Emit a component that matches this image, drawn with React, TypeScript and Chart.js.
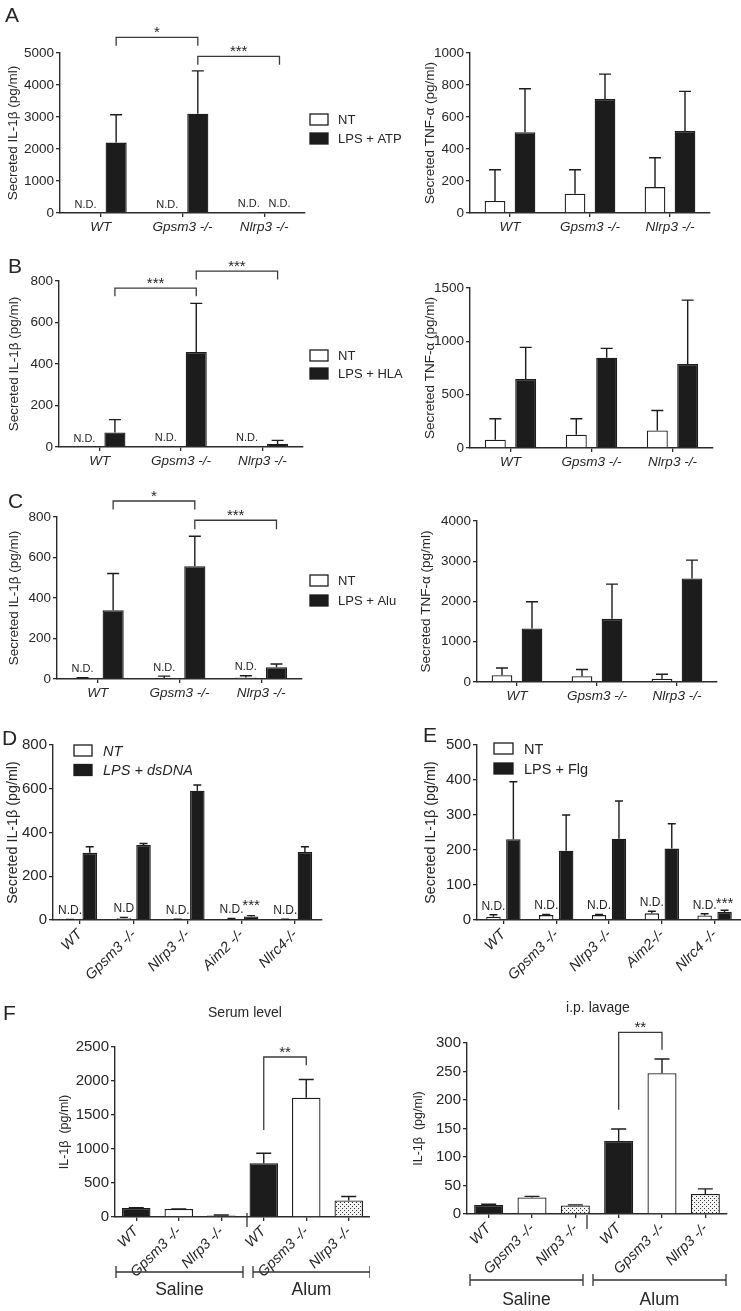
import React, { useEffect, useRef } from "react";
import { Chart, registerables } from "chart.js";
Chart.register(...registerables);

const FONT = '"Liberation Sans", Arial, Helvetica, sans-serif';
const INK = "#1c1c1c";
const AXIS = "#2b2b2b";
const TXT = "#262626";

// ---------------- data ----------------
const genotypes3 = ["WT", "Gpsm3 -/-", "Nlrp3 -/-"];
const genotypesD = ["WT", "Gpsm3 -/-", "Nlrp3 -/-", "Aim2 -/-", "Nlrc4-/-"];
const genotypesE = ["WT", "Gpsm3 -/-", "Nlrp3 -/-", "Aim2-/-", "Nlrc4 -/-"];
const genotypesF = ["WT", "Gpsm3 -/-", "Nlrp3 -/-", "WT", "Gpsm3 -/-", "Nlrp3 -/-"];
const treatmentsF = ["Saline", "Alum"];

// A: LPS + ATP
const aIl1bNT = [0, 0, 10];
const aIl1bNTErr = [0, 0, 0];
const aIl1bLPS = [2200, 3100, 20];
const aIl1bLPSErr = [870, 1340, 0];
const aIl1bNTNotes = ["N.D.", "N.D.", "N.D."];
const aIl1bLPSNotes = ["", "", "N.D."];
const aIl1bTicks = [0, 1000, 2000, 3000, 4000, 5000];
const aTnfNT = [75, 120, 162];
const aTnfNTErr = [195, 150, 183];
const aTnfLPS = [505, 713, 513];
const aTnfLPSErr = [272, 155, 247];
const aTnfTicks = [0, 200, 400, 600, 800, 1000];

// B: LPS + HLA
const bIl1bNT = [0, 4, 3];
const bIl1bNTErr = [0, 0, 0];
const bIl1bLPS = [70, 458, 15];
const bIl1bLPSErr = [62, 234, 17];
const bIl1bNTNotes = ["N.D.", "N.D.", "N.D."];
const bIl1bTicks = [0, 200, 400, 600, 800];
const bTnfNT = [78, 124, 164];
const bTnfNTErr = [196, 150, 187];
const bTnfLPS = [647, 846, 787];
const bTnfLPSErr = [296, 88, 599];
const bTnfTicks = [0, 500, 1000, 1500];

// C: LPS + Alu
const cIl1bNT = [3, 5, 8];
const cIl1bNTErr = [3, 9, 8];
const cIl1bLPS = [340, 557, 58];
const cIl1bLPSErr = [181, 148, 16];
const cIl1bNTNotes = ["N.D.", "N.D.", "N.D."];
const cIl1bTicks = [0, 200, 400, 600, 800];
const cTnfNT = [167, 142, 83];
const cTnfNTErr = [182, 167, 109];
const cTnfLPS = [1328, 1569, 2573];
const cTnfLPSErr = [664, 863, 456];
const cTnfTicks = [0, 1000, 2000, 3000, 4000];

// D: LPS + dsDNA
const dNT = [2, 8, 3, 5, 3];
const dNTErr = [1, 4, 1, 2, 1];
const dLPS = [307, 343, 591, 16, 311];
const dLPSErr = [28, 7, 26, 4, 24];
const dNTNotes = ["N.D.", "N.D", "N.D.", "N.D.", "N.D."];
const dLPSNotes = ["", "", "", "***", ""];
const dTicks = [0, 200, 400, 600, 800];

// E: LPS + Flg
const eNT = [9, 14, 14, 19, 13];
const eNTErr = [6, 2, 2, 6, 5];
const eLPS = [231, 198, 232, 204, 23];
const eLPSErr = [164, 102, 108, 71, 5];
const eNTNotes = ["N.D.", "N.D.", "N.D.", "N.D.", "N.D."];
const eLPSNotes = ["", "", "", "", "***"];
const eTicks = [0, 100, 200, 300, 400, 500];

// F: in vivo
const fSerum = [132, 117, 23, 791, 1753, 243];
const fSerumErr = [4, 3, 7, 147, 269, 59];
const fSerumTicks = [0, 500, 1000, 1500, 2000, 2500];
const fLavage = [16, 29, 15, 128, 247, 35];
const fLavageErr = [1, 2, 1, 21, 25, 9];
const fLavageTicks = [0, 50, 100, 150, 200, 250, 300];

// ---------------- helpers ----------------
function dotPattern(): CanvasPattern | string {
  const p = document.createElement("canvas");
  p.width = 4;
  p.height = 4;
  const g = p.getContext("2d");
  if (!g) return "#ddd";
  g.fillStyle = "#f4f4f4";
  g.fillRect(0, 0, 4, 4);
  g.fillStyle = "#333";
  g.fillRect(0, 0, 1, 1);
  g.fillRect(2, 2, 1, 1);
  const pat = g.createPattern(p, "repeat");
  return pat || "#ddd";
}

type Series = {
  label: string;
  data: number[];
  err: number[];
  fill: any;
  notes?: string[];
};

type Cfg = {
  canvas: { x: number; y: number; w: number; h: number };
  area: { l: number; t: number; r: number; b: number };
  labels: string[];
  series: Series[];
  yTicks: number[];
  yTitle: string;
  yTitleX: number;
  titleFont: number;
  yFont: number;
  xFont: number;
  rot: number;
  catPct: number;
  barPct: number;
  capW: number;
  ndFont: number;
  starFont: number;
  ndGap: number;
  starGap: number;
  legend?: { x: number; y: number; dy: number; w: number; h: number; tx: number; font: number; italic?: boolean };
  brackets?: { a: number[]; b: number[]; top: number; legA: number; legB: number; text: string }[];
  groups?: { text: string; x0: number; x1: number; y: number; ty: number }[];
  breakMark?: { x: number; y0: number; y1: number };
};

function buildConfig(cfg: Cfg): any {
  const { canvas, area } = cfg;
  const yt = cfg.yTicks;
  const extras = {
    id: "extras",
    afterDatasetsDraw(chart: any) {
      const ctx = chart.ctx;
      const ys = chart.scales.y;
      ctx.save();
      ctx.lineWidth = 1.4;
      ctx.strokeStyle = INK;
      ctx.fillStyle = TXT;
      cfg.series.forEach((s, di) => {
        const meta = chart.getDatasetMeta(di);
        meta.data.forEach((el: any, i: number) => {
          const v = s.data[i];
          const e = s.err[i];
          let topPix = el.y;
          if (e) {
            const yTop = ys.getPixelForValue(v + e);
            ctx.strokeStyle = INK;
            ctx.lineWidth = 1.4;
            ctx.beginPath();
            ctx.moveTo(el.x, el.y);
            ctx.lineTo(el.x, yTop);
            ctx.moveTo(el.x - cfg.capW / 2, yTop);
            ctx.lineTo(el.x + cfg.capW / 2, yTop);
            ctx.stroke();
            topPix = yTop;
          }
          const note = s.notes ? s.notes[i] : "";
          if (note) {
            const star = note.indexOf("*") >= 0;
            ctx.fillStyle = TXT;
            ctx.font = `${star ? cfg.starFont : cfg.ndFont}px ${FONT}`;
            ctx.textAlign = "center";
            ctx.textBaseline = "alphabetic";
            ctx.fillText(note, el.x, topPix - (star ? cfg.starGap : cfg.ndGap));
          }
        });
      });
      (cfg.brackets || []).forEach((b) => {
        const x1 = chart.getDatasetMeta(b.a[1]).data[b.a[0]].x;
        const x2 = chart.getDatasetMeta(b.b[1]).data[b.b[0]].x;
        const yT = ys.getPixelForValue(b.top);
        const yA = ys.getPixelForValue(b.legA);
        const yB = ys.getPixelForValue(b.legB);
        ctx.strokeStyle = "#3a3a3a";
        ctx.lineWidth = 1.3;
        ctx.beginPath();
        ctx.moveTo(x1, yA);
        ctx.lineTo(x1, yT);
        ctx.lineTo(x2, yT);
        ctx.lineTo(x2, yB);
        ctx.stroke();
        ctx.fillStyle = TXT;
        ctx.font = `${cfg.starFont}px ${FONT}`;
        ctx.textAlign = "center";
        ctx.textBaseline = "alphabetic";
        ctx.fillText(b.text, (x1 + x2) / 2, yT);
      });
      ctx.restore();
    },
    afterDraw(chart: any) {
      const ctx = chart.ctx;
      ctx.save();
      const L = cfg.legend;
      if (L) {
        cfg.series.forEach((s, i) => {
          const bx = L.x - canvas.x;
          const by = L.y - canvas.y + i * L.dy;
          ctx.fillStyle = s.fill;
          ctx.fillRect(bx, by, L.w, L.h);
          ctx.strokeStyle = INK;
          ctx.lineWidth = 1.3;
          ctx.strokeRect(bx, by, L.w, L.h);
          ctx.fillStyle = TXT;
          ctx.font = `${L.italic ? "italic " : ""}${L.font}px ${FONT}`;
          ctx.textAlign = "left";
          ctx.textBaseline = "middle";
          ctx.fillText(s.label, L.tx - canvas.x, by + L.h / 2 + 1);
        });
      }
      (cfg.groups || []).forEach((g) => {
        const x0 = g.x0 - canvas.x;
        const x1 = g.x1 - canvas.x;
        const y = g.y - canvas.y;
        ctx.strokeStyle = "#333";
        ctx.lineWidth = 1.3;
        ctx.beginPath();
        ctx.moveTo(x0, y);
        ctx.lineTo(x1, y);
        ctx.moveTo(x0, y - 6);
        ctx.lineTo(x0, y + 6);
        ctx.moveTo(x1, y - 6);
        ctx.lineTo(x1, y + 6);
        ctx.stroke();
        ctx.fillStyle = TXT;
        ctx.font = `17.5px ${FONT}`;
        ctx.textAlign = "center";
        ctx.textBaseline = "alphabetic";
        ctx.fillText(g.text, (x0 + x1) / 2, g.ty - canvas.y);
      });
      if (cfg.breakMark) {
        const m = cfg.breakMark;
        ctx.strokeStyle = "#333";
        ctx.lineWidth = 1.3;
        ctx.beginPath();
        ctx.moveTo(m.x - canvas.x, m.y0 - canvas.y);
        ctx.lineTo(m.x - canvas.x, m.y1 - canvas.y);
        ctx.stroke();
      }
      ctx.restore();
    },
  };

  const gridOpts = {
    display: true,
    drawOnChartArea: false,
    drawTicks: true,
    tickLength: 4,
    color: AXIS,
    lineWidth: 1.3,
  };

  return {
    type: "bar",
    data: {
      labels: cfg.labels,
      datasets: cfg.series.map((s) => ({
        label: s.label,
        data: s.data,
        backgroundColor: s.fill,
        borderColor: INK,
        borderWidth: 1.3,
        categoryPercentage: cfg.catPct,
        barPercentage: cfg.barPct,
      })),
    },
    options: {
      responsive: false,
      animation: false,
      devicePixelRatio: 1,
      layout: {
        padding: {
          top: area.t - canvas.y,
          right: canvas.x + canvas.w - area.r,
          left: 0,
          bottom: 0,
        },
      },
      plugins: {
        legend: { display: false },
        tooltip: { enabled: false },
        title: { display: false },
      },
      scales: {
        x: {
          offset: true,
          grid: { ...gridOpts, offset: false },
          border: { display: true, color: AXIS, width: 1.4 },
          ticks: {
            color: TXT,
            font: { family: FONT, size: cfg.xFont, style: "italic" },
            padding: 2,
            autoSkip: false,
            minRotation: cfg.rot,
            maxRotation: cfg.rot,
          },
          afterFit: (s: any) => {
            s.height = canvas.y + canvas.h - area.b;
          },
        },
        y: {
          min: 0,
          max: yt[yt.length - 1],
          grid: gridOpts,
          border: { display: true, color: AXIS, width: 1.4 },
          ticks: {
            stepSize: yt[1] - yt[0],
            color: TXT,
            font: { family: FONT, size: cfg.yFont },
            padding: 2,
            callback: (v: any) => String(v),
          },
          title: {
            display: true,
            text: cfg.yTitle,
            color: TXT,
            font: { family: FONT, size: cfg.titleFont },
            padding: { top: cfg.yTitleX - canvas.x - cfg.titleFont * 0.6, bottom: 0 },
          },
          afterFit: (s: any) => {
            s.width = area.l - canvas.x;
          },
        },
      },
    },
    plugins: [extras],
  };
}

function Panel({ make }: { make: () => Cfg }) {
  const ref = useRef<HTMLCanvasElement>(null);
  const cfgRef = useRef<Cfg | null>(null);
  if (!cfgRef.current) cfgRef.current = make();
  const cfg = cfgRef.current;
  useEffect(() => {
    const c = ref.current;
    if (!c) return;
    const chart = new Chart(c, buildConfig(make()));
    return () => chart.destroy();
  }, []);
  const { x, y, w, h } = cfg.canvas;
  return (
    <canvas
      ref={ref}
      width={w}
      height={h}
      style={{ position: "absolute", left: x, top: y, width: w, height: h }}
    />
  );
}

const WHITE = "#ffffff";
const IL1B = "Secreted IL-1β (pg/ml)";
const TNF = "Secreted TNF-α (pg/ml)";

const abcCommon = {
  titleFont: 13.5,
  yFont: 13.5,
  xFont: 13.5,
  rot: 0,
  catPct: 0.75,
  barPct: 0.69,
  capW: 12,
  ndFont: 11,
  starFont: 15,
  ndGap: 5.5,
  starGap: 3,
};

const deCommon = {
  titleFont: 14.3,
  yFont: 15,
  xFont: 14.5,
  rot: 45,
  capW: 8,
  ndFont: 12,
  starFont: 15,
};

const makers: (() => Cfg)[] = [
  () => ({
    ...abcCommon,
    canvas: { x: 0, y: 0, w: 405, h: 240 },
    area: { l: 60, t: 53, r: 305, b: 213 },
    labels: genotypes3,
    series: [
      { label: "NT", data: aIl1bNT, err: aIl1bNTErr, fill: WHITE, notes: aIl1bNTNotes },
      { label: "LPS + ATP", data: aIl1bLPS, err: aIl1bLPSErr, fill: INK, notes: aIl1bLPSNotes },
    ],
    yTicks: aIl1bTicks,
    yTitle: IL1B,
    yTitleX: 13,
    legend: { x: 310, y: 114, dy: 19, w: 18, h: 11, tx: 338, font: 13 },
    brackets: [
      { a: [0, 1], b: [1, 1], top: 5487, legA: 5228, legB: 5228, text: "*" },
      { a: [1, 1], b: [2, 1], top: 4894, legA: 4634, legB: 4634, text: "***" },
    ],
  }),
  () => ({
    ...abcCommon,
    canvas: { x: 405, y: 0, w: 336, h: 240 },
    area: { l: 470, t: 53, r: 710, b: 213 },
    labels: genotypes3,
    series: [
      { label: "NT", data: aTnfNT, err: aTnfNTErr, fill: WHITE },
      { label: "LPS + ATP", data: aTnfLPS, err: aTnfLPSErr, fill: INK },
    ],
    yTicks: aTnfTicks,
    yTitle: TNF,
    yTitleX: 430,
  }),
  () => ({
    ...abcCommon,
    canvas: { x: 0, y: 240, w: 405, h: 235 },
    area: { l: 59, t: 281, r: 303, b: 447 },
    labels: genotypes3,
    series: [
      { label: "NT", data: bIl1bNT, err: bIl1bNTErr, fill: WHITE, notes: bIl1bNTNotes },
      { label: "LPS + HLA", data: bIl1bLPS, err: bIl1bLPSErr, fill: INK },
    ],
    yTicks: bIl1bTicks,
    yTitle: IL1B,
    yTitleX: 14,
    legend: { x: 310, y: 350, dy: 18, w: 18, h: 11, tx: 338, font: 13 },
    brackets: [
      { a: [0, 1], b: [1, 1], top: 766, legA: 726, legB: 726, text: "***" },
      { a: [1, 1], b: [2, 1], top: 848, legA: 807, legB: 807, text: "***" },
    ],
  }),
  () => ({
    ...abcCommon,
    canvas: { x: 405, y: 240, w: 336, h: 235 },
    area: { l: 470, t: 288, r: 713, b: 448 },
    labels: genotypes3,
    series: [
      { label: "NT", data: bTnfNT, err: bTnfNTErr, fill: WHITE },
      { label: "LPS + HLA", data: bTnfLPS, err: bTnfLPSErr, fill: INK },
    ],
    yTicks: bTnfTicks,
    yTitle: TNF,
    yTitleX: 430,
  }),
  () => ({
    ...abcCommon,
    canvas: { x: 0, y: 470, w: 405, h: 240 },
    area: { l: 57, t: 517, r: 302, b: 679 },
    labels: genotypes3,
    series: [
      { label: "NT", data: cIl1bNT, err: cIl1bNTErr, fill: WHITE, notes: cIl1bNTNotes },
      { label: "LPS + Alu", data: cIl1bLPS, err: cIl1bLPSErr, fill: INK },
    ],
    yTicks: cIl1bTicks,
    yTitle: IL1B,
    yTitleX: 14,
    legend: { x: 310, y: 575, dy: 20, w: 18, h: 11, tx: 338, font: 13 },
    brackets: [
      { a: [0, 1], b: [1, 1], top: 879, legA: 837, legB: 837, text: "*" },
      { a: [1, 1], b: [2, 1], top: 784, legA: 739, legB: 739, text: "***" },
    ],
  }),
  () => ({
    ...abcCommon,
    canvas: { x: 405, y: 470, w: 336, h: 240 },
    area: { l: 477, t: 521, r: 717, b: 682 },
    labels: genotypes3,
    series: [
      { label: "NT", data: cTnfNT, err: cTnfNTErr, fill: WHITE },
      { label: "LPS + Alu", data: cTnfLPS, err: cTnfLPSErr, fill: INK },
    ],
    yTicks: cTnfTicks,
    yTitle: TNF,
    yTitleX: 426,
  }),
  () => ({
    ...deCommon,
    canvas: { x: 0, y: 705, w: 370, h: 285 },
    area: { l: 53, t: 745, r: 322, b: 920 },
    labels: genotypesD,
    series: [
      { label: "NT", data: dNT, err: dNTErr, fill: WHITE, notes: dNTNotes },
      { label: "LPS + dsDNA", data: dLPS, err: dLPSErr, fill: INK, notes: dLPSNotes },
    ],
    yTicks: dTicks,
    yTitle: IL1B,
    yTitleX: 13,
    catPct: 0.73,
    barPct: 0.74,
    ndGap: 5.5,
    starGap: 6,
    legend: { x: 74, y: 745, dy: 19.5, w: 18, h: 11, tx: 103, font: 14.5, italic: true },
  }),
  () => ({
    ...deCommon,
    canvas: { x: 370, y: 705, w: 371, h: 285 },
    area: { l: 477, t: 745, r: 741, b: 920 },
    labels: genotypesE,
    series: [
      { label: "NT", data: eNT, err: eNTErr, fill: WHITE, notes: eNTNotes },
      { label: "LPS + Flg", data: eLPS, err: eLPSErr, fill: INK, notes: eLPSNotes },
    ],
    yTicks: eTicks,
    yTitle: IL1B,
    yTitleX: 431,
    catPct: 0.755,
    barPct: 0.725,
    ndGap: 5,
    starGap: 2,
    legend: { x: 494, y: 743, dy: 20, w: 19, h: 11, tx: 524, font: 14.5 },
  }),
  () => {
    const pat = dotPattern();
    return {
      canvas: { x: 0, y: 990, w: 370, h: 321 },
      area: { l: 115, t: 1047, r: 373, b: 1217 },
      labels: genotypesF,
      series: [
        {
          label: "Serum level",
          data: fSerum,
          err: fSerumErr,
          fill: [INK, WHITE, pat, INK, WHITE, pat],
        },
      ],
      yTicks: fSerumTicks,
      yTitle: "IL-1β  (pg/ml)",
      yTitleX: 65,
      titleFont: 12.5,
      yFont: 15,
      xFont: 14.5,
      rot: 45,
      catPct: 1,
      barPct: 0.67,
      capW: 15,
      ndFont: 12,
      starFont: 15,
      ndGap: 5,
      starGap: 3,
      brackets: [{ a: [3, 0], b: [4, 0], top: 2353, legA: 1279, legB: 2231, text: "**" }],
      groups: [
        { text: treatmentsF[0], x0: 116, x1: 243, y: 1272, ty: 1295 },
        { text: treatmentsF[1], x0: 253, x1: 370, y: 1272, ty: 1295 },
      ],
      breakMark: { x: 247, y0: 1213, y1: 1227 },
    };
  },
  () => {
    const pat = dotPattern();
    return {
      canvas: { x: 370, y: 990, w: 371, h: 321 },
      area: { l: 467, t: 1043, r: 727, b: 1214 },
      labels: genotypesF,
      series: [
        {
          label: "i.p. lavage",
          data: fLavage,
          err: fLavageErr,
          fill: [INK, WHITE, pat, INK, WHITE, pat],
        },
      ],
      yTicks: fLavageTicks,
      yTitle: "IL-1β  (pg/ml)",
      yTitleX: 419,
      titleFont: 12.5,
      yFont: 15,
      xFont: 14.5,
      rot: 45,
      catPct: 1,
      barPct: 0.67,
      capW: 15,
      ndFont: 12,
      starFont: 15,
      ndGap: 5,
      starGap: 3,
      brackets: [{ a: [3, 0], b: [4, 0], top: 318.6, legA: 183, legB: 288, text: "**" }],
      groups: [
        { text: treatmentsF[0], x0: 470, x1: 583, y: 1280, ty: 1305 },
        { text: treatmentsF[1], x0: 593, x1: 726, y: 1280, ty: 1305 },
      ],
      breakMark: { x: 587, y0: 1215, y1: 1229 },
    };
  },
];

const letters = [
  { ch: "A", x: 5, capTop: 7 },
  { ch: "B", x: 8, capTop: 258 },
  { ch: "C", x: 8, capTop: 493 },
  { ch: "D", x: 2, capTop: 730 },
  { ch: "E", x: 423, capTop: 727 },
  { ch: "F", x: 3, capTop: 1005 },
];

const headings = [
  { text: "Serum level", cx: 245, base: 1017 },
  { text: "i.p. lavage", cx: 598, base: 1012 },
];

export default function App() {
  const LS = 21;
  const HS = 14;
  return (
    <div
      style={{
        position: "absolute",
        left: 0,
        top: 0,
        width: 741,
        height: 1311,
        background: "#fff",
        overflow: "hidden",
        fontFamily: FONT,
        color: TXT,
      }}
    >
      {makers.map((m, i) => (
        <Panel key={i} make={m} />
      ))}
      {letters.map((l) => (
        <div
          key={l.ch}
          style={{
            position: "absolute",
            left: l.x,
            top: l.capTop - 0.13 * LS,
            fontSize: LS,
            lineHeight: `${LS}px`,
            whiteSpace: "nowrap",
          }}
        >
          {l.ch}
        </div>
      ))}
      {headings.map((h) => (
        <div
          key={h.text}
          style={{
            position: "absolute",
            left: h.cx - 60,
            width: 120,
            textAlign: "center",
            top: h.base - 0.846 * HS,
            fontSize: HS,
            lineHeight: `${HS}px`,
            whiteSpace: "nowrap",
          }}
        >
          {h.text}
        </div>
      ))}
    </div>
  );
}
